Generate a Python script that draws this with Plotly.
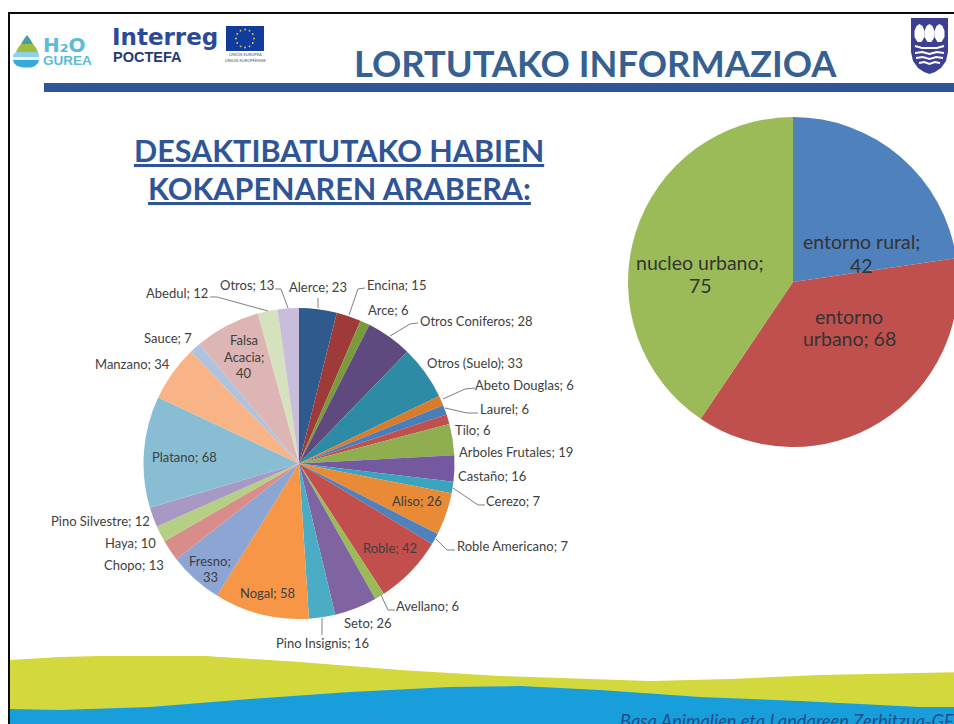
import math
import plotly.graph_objects as go

# ---------- data ----------
species = ["Alerce", "Encina", "Arce", "Otros Coniferos", "Otros (Suelo)", "Abeto Douglas", "Laurel",
           "Tilo", "Arboles Frutales", "Castaño", "Cerezo", "Aliso", "Roble Americano", "Roble",
           "Avellano", "Seto", "Pino Insignis", "Nogal", "Fresno", "Chopo", "Haya", "Pino Silvestre",
           "Platano", "Manzano", "Sauce", "Falsa Acacia", "Abedul", "Otros"]
species_values = [23, 15, 6, 28, 33, 6, 6, 6, 19, 16, 7, 26, 7, 42, 6, 26, 16, 58, 33, 13, 10, 12,
                  68, 34, 7, 40, 12, 13]
species_colors = ["#2f5a8e", "#9e3a38", "#7a9a3c", "#5f4a80", "#2d8ba6", "#d97b2b", "#4a7ebb",
                  "#c0504d", "#8fae50", "#7458a0", "#3aa3bd", "#e88a36", "#4f81bd", "#c24f4b",
                  "#9bbb59", "#8064a2", "#4bacc6", "#f79646", "#8da5d3", "#d98d8b", "#b5cf85",
                  "#a898c4", "#89bdd4", "#f8b487", "#b0c3de", "#dcb5b4", "#d5e2bd", "#c9bddb"]

location = ["entorno rural", "entorno urbano", "nucleo urbano"]
location_values = [42, 68, 75]
location_colors = ["#4f81bd", "#c0504d", "#9bbb59"]

title_text = "LORTUTAKO INFORMAZIOA"
subtitle_lines = ["DESAKTIBATUTAKO HABIEN", "KOKAPENAREN ARABERA:"]
footer_text = "Basa Animalien eta Landareen Zerbitzua-GFA"

# ---------- layout helpers (pixel coordinates on the slide) ----------
W, H = 962, 724
FONT = "Lato, 'Open Sans', sans-serif"
px = lambda x: x / W
py = lambda y: 1 - y / H


def path(points, close=True):
    s = "M" + " L".join(f"{px(x):.5f},{py(y):.5f}" for x, y in points)
    return s + (" Z" if close else "")


shapes = []


def fill(points, color, layer="below"):
    shapes.append(dict(type="path", xref="paper", yref="paper", path=path(points),
                       fillcolor=color, line=dict(width=0), layer=layer))


def line(points, color="#7f7f7f", width=1):
    shapes.append(dict(type="path", xref="paper", yref="paper", path=path(points, close=False),
                       line=dict(color=color, width=width), layer="above"))


annotations = []


def text(x, y, s, size, color="#404040", anchor="center", family=FONT, **kw):
    annotations.append(dict(x=px(x), y=py(y), xref="paper", yref="paper", text=s, showarrow=False,
                            xanchor=anchor, yanchor="middle",
                            font=dict(family=family, size=size, color=color), **kw))


# ---------- slide frame, bar, footer ----------
yellow_top = [(10, 660), (60, 657), (100, 656), (205, 656), (300, 662), (400, 670), (500, 676), (620, 680),
              (650, 681), (730, 679), (820, 675), (962, 672)]
blue_top = [(10, 709), (60, 710), (150, 707), (250, 699), (350, 692), (450, 687), (520, 686), (600, 690),
            (700, 697), (800, 701), (920, 707), (962, 707)]
fill(yellow_top + [(962, 724), (10, 724)], "#d3d83d")
fill(blue_top + [(962, 724), (10, 724)], "#189fdb")
fill([(8, 12), (962, 12), (962, 14), (10, 14), (10, 724), (8, 724)], "#0a0a0a")
fill([(44, 83), (962, 83), (962, 92), (44, 92)], "#2f5597")

# ---------- H2O Gurea logo ----------
fill([(27, 35), (30, 39), (33, 44), (21, 44), (24, 39)], "#4a9ca0")
fill([(21, 44), (33, 44), (36, 48), (38, 52), (16, 52), (18, 48)], "#9dbd3c")
fill([(16, 52), (38, 52), (39, 55), (39, 57), (13, 57), (13, 55)], "#8fd0e6")
fill([(13, 57), (39, 57), (39, 60), (13, 60)], "#e6f5fa")
fill([(13, 60), (39, 60), (38, 63), (35, 66), (31, 67.5), (23, 67.5), (17, 66), (14, 63)], "#35a9da")
text(41, 45, "<b>H₂O</b>", 20, color="#5cbbd6", anchor="left", family="'DejaVu Sans', sans-serif")
text(41, 61, "<b>GUREA</b>", 13.5, color="#5cbbd6", anchor="left", family="'Liberation Sans', Arial")

# ---------- Interreg logo ----------
text(110, 37, "<b>Interreg</b>", 23, color="#2a4a9a", anchor="left", family="'DejaVu Sans', sans-serif")
text(111, 57, "<b>POCTEFA</b>", 14.5, color="#1f3a78", anchor="left", family="'Liberation Sans', Arial")
fill([(226, 26), (264, 26), (264, 51), (226, 51)], "#113c9e")
for k in range(12):
    a = 2 * math.pi * k / 12
    cx, cy = 245 + 9 * math.cos(a), 38.5 + 9 * math.sin(a)
    shapes.append(dict(type="circle", xref="paper", yref="paper", x0=px(cx - 0.9), x1=px(cx + 0.9),
                       y0=py(cy - 0.9), y1=py(cy + 0.9), fillcolor="#d8cf5a", line=dict(width=0), layer="below"))
text(245, 55, "UNIÓN EUROPEA", 4, color="#555555")
text(245, 60, "UNION EUROPÉENNE", 4, color="#555555")

# ---------- shield logo ----------
fill([(911, 18), (948, 18), (948, 52), (946, 61), (941, 68), (935, 72), (929.5, 74), (924, 72), (918, 68),
      (913, 61), (911, 52)], "#3d3f92")
for cx in (919.5, 929.5, 939.5):
    fill([(cx, 24), (cx + 3, 26), (cx + 5, 31), (cx + 5, 37), (cx + 2, 42), (cx - 2, 42), (cx - 5, 37),
          (cx - 5, 31), (cx - 3, 26)], "#ffffff")
line([(915, 46), (922, 48), (929.5, 48), (937, 48), (944, 46)], "#ffffff", 2)
for wy, x0, x1 in ((53, 915, 944), (58, 916, 943), (63, 919, 940)):
    mid = (x0 + x1) / 2
    line([(x0, wy), ((x0 + mid) / 2, wy - 1), (mid, wy + 1), ((mid + x1) / 2, wy - 1), (x1, wy)], "#ffffff", 2)

# ---------- titles ----------
text(595.5, 63, f"<b>{title_text}</b>", 36.3, color="#376092")
text(339, 150, f"<b><u>{subtitle_lines[0]}</u></b>", 30.5, color="#2f5597")
text(339, 188, f"<b><u>{subtitle_lines[1]}</u></b>", 30.5, color="#2f5597")
text(618, 721, f"<i>{footer_text}</i>", 18.3, color="#1f4e8c", anchor="left")

# ---------- pie labels: placement per category ----------
label_pos = {"Alerce": (318, 287), "Encina": (396, 285), "Arce": (388, 310), "Otros Coniferos": (476, 321),
             "Otros (Suelo)": (475, 363), "Abeto Douglas": (524, 385), "Laurel": (504, 409), "Tilo": (472, 430),
             "Arboles Frutales": (516, 452), "Castaño": (492, 476), "Cerezo": (513, 501), "Aliso": (417, 501),
             "Roble Americano": (512, 546), "Roble": (390, 548), "Avellano": (427, 606), "Seto": (368, 623),
             "Pino Insignis": (322, 643), "Nogal": (267, 593), "Chopo": (134, 565), "Haya": (130, 543),
             "Pino Silvestre": (100, 521), "Platano": (184, 457), "Manzano": (132, 364), "Sauce": (168, 338),
             "Abedul": (177, 293), "Otros": (247, 285)}
for name, value in zip(species, species_values):
    if name in label_pos:
        x, y = label_pos[name]
        text(x, y, f"{name}; {value}", 13)
v = dict(zip(species, species_values))
text(210, 561, "Fresno;", 13)
text(210, 577, str(v["Fresno"]), 13)
text(244, 340, "Falsa", 13)
text(244, 357, "Acacia;", 13)
text(244, 373, str(v["Falsa Acacia"]), 13)

leaders = [[(275, 289), (281, 289), (288, 308)], [(210, 297), (217, 297), (268, 311)], [(318, 298), (318, 308)],
           [(365, 288), (358, 289), (349, 315)], [(418, 323), (410, 324), (390, 336)],
           [(475, 388), (465, 389), (443, 399)], [(478, 413), (467, 413), (445, 408)],
           [(485, 505), (478, 505), (453, 488)], [(455, 550), (447, 550), (436, 539)],
           [(395, 610), (388, 610), (381, 595)], [(322, 618), (322, 635)]]
for pts in leaders:
    line(pts)

lv = dict(zip(location, location_values))
text(861, 242, "entorno rural;", 19.5, color="#333333")
text(861, 265, str(lv["entorno rural"]), 19.5, color="#333333")
text(849, 316, "entorno", 19.5, color="#333333")
text(849, 339, f"urbano; {lv['entorno urbano']}", 19.5, color="#333333")
text(700, 262, "nucleo urbano;", 19.5, color="#333333")
text(700, 285, str(lv["nucleo urbano"]), 19.5, color="#333333")


# ---------- figure ----------
def domain(cx, cy, r):
    return dict(x=[px(cx - r), px(cx + r)], y=[py(cy + r), py(cy - r)])


fig = go.Figure()
fig.add_trace(go.Pie(labels=species, values=species_values, sort=False, direction="clockwise", rotation=0,
                     marker=dict(colors=species_colors, line=dict(width=0)), textinfo="none",
                     domain=domain(299, 463.5, 155.5), showlegend=False, hoverinfo="label+value"))
fig.add_trace(go.Pie(labels=location, values=location_values, sort=False, direction="clockwise", rotation=0,
                     marker=dict(colors=location_colors, line=dict(width=0)), textinfo="none",
                     domain=domain(793, 282, 165), showlegend=False, hoverinfo="label+value"))
fig.update_layout(width=W, height=H, autosize=False, margin=dict(l=0, r=0, t=0, b=0),
                  paper_bgcolor="#ffffff", plot_bgcolor="#ffffff", shapes=shapes, annotations=annotations)

fig.write_html("out.html", config=dict(displayModeBar=False),
               post_script="document.body.style.margin='0';document.body.style.overflow='hidden';"
                           "document.documentElement.style.overflow='hidden';")
